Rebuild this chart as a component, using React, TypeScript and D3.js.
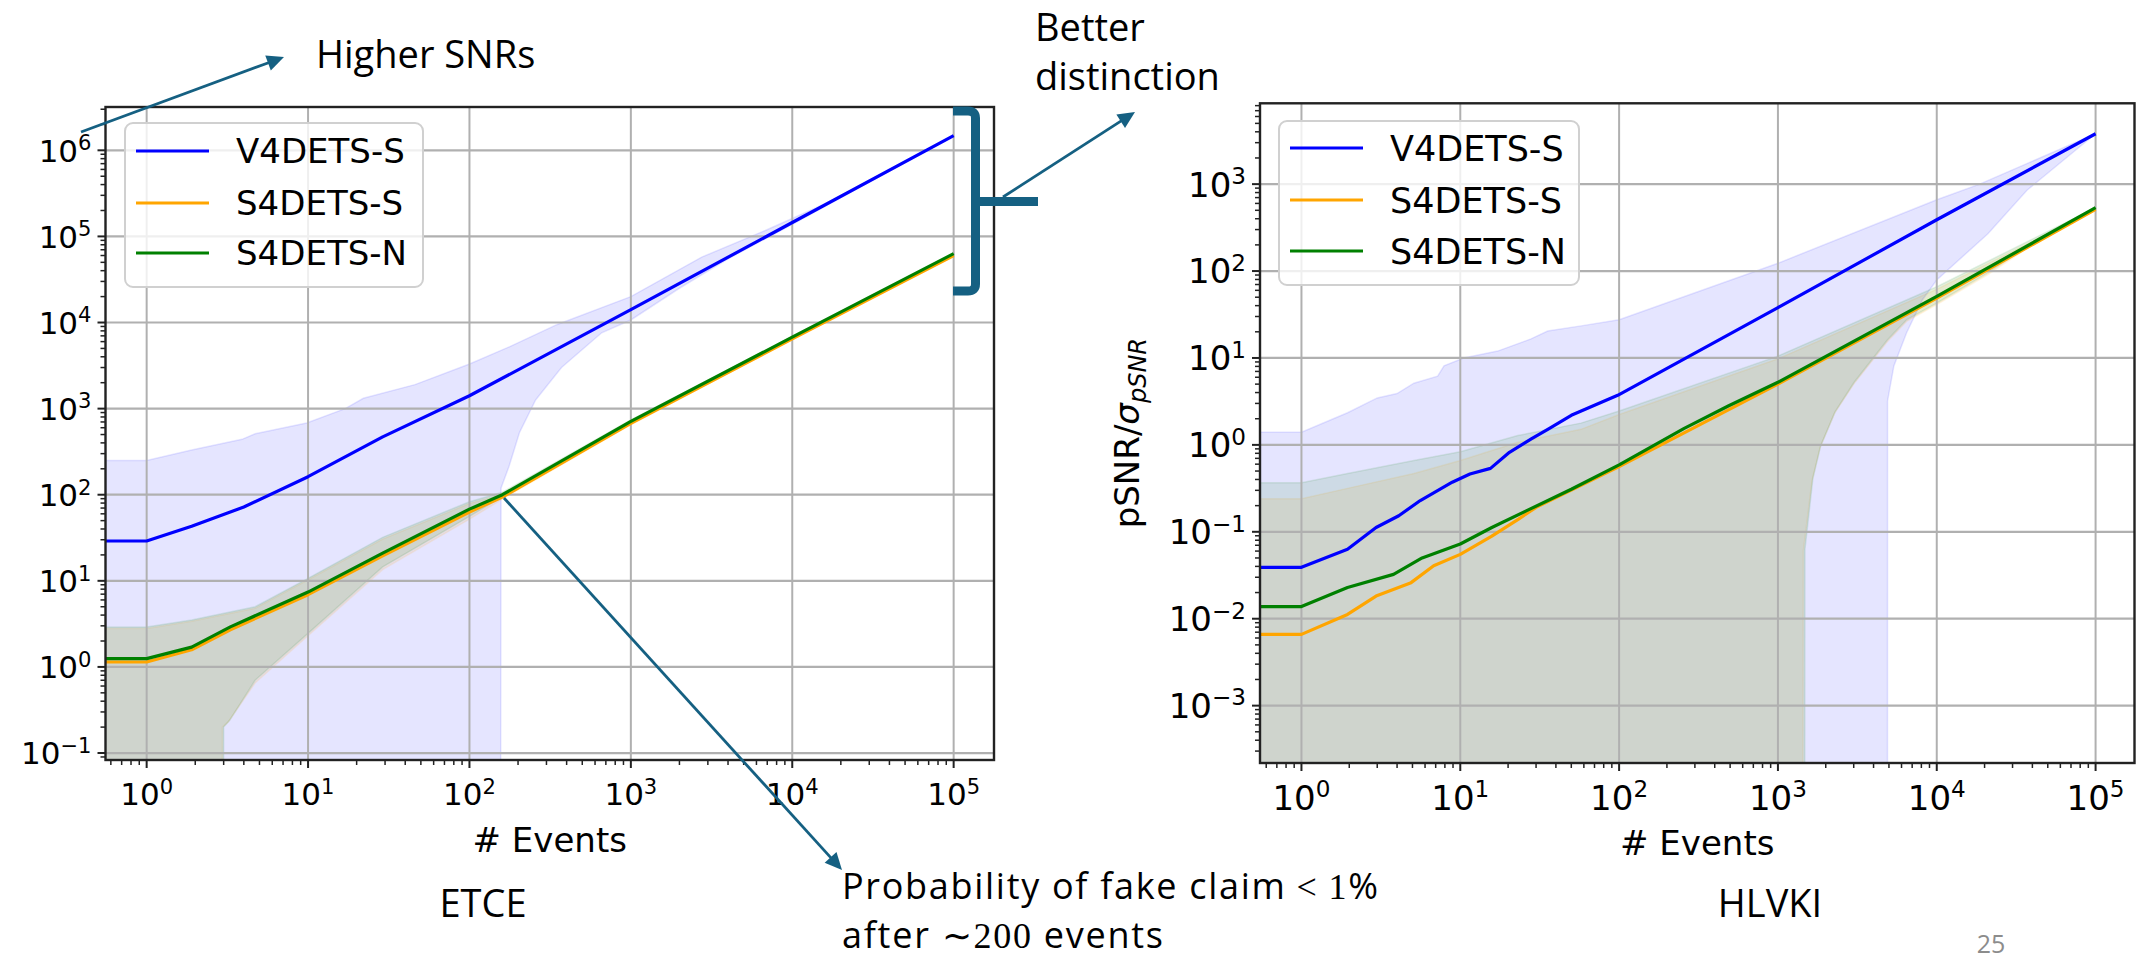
import React from "react";
import * as d3 from "d3";

type Pt = [number, number]; // [events, pSNR/σ]

// ---------- ETCE panel: mean curve and ±σ band edges per scheme ----------
const ETCE_V4S_MEAN: Pt[] = [[0.5, 29], [1, 29], [1.9, 43], [4, 72], [10, 162], [29, 470], [100, 1410], [1000, 14100], [10000, 145000], [100000, 1480000]];
const ETCE_V4S_UPPER: Pt[] = [[0.5, 250], [1, 250], [1.9, 330], [3.9, 440], [4.7, 510], [9.8, 680], [17, 1000], [22, 1320], [46, 1900], [100, 3300], [178, 5250], [350, 9500], [1000, 20000], [2750, 57500], [6800, 117000], [16000, 240000], [100000, 1480000]];
const ETCE_V4S_LOWER: Pt[] = [[0.5, 0], [155, 0], [157, 120], [176, 214], [204, 525], [257, 1260], [372, 3000], [660, 7600], [1000, 10700], [2000, 25000], [4000, 55000], [10000, 138000], [100000, 1480000]];

const ETCE_S4S_MEAN: Pt[] = [[0.5, 1.14], [1, 1.14], [1.9, 1.58], [3.3, 2.7], [10, 6.9], [29, 19.5], [100, 63], [160, 94], [1000, 676], [10000, 6460], [100000, 60000]];
const ETCE_S4S_UPPER: Pt[] = [[0.5, 2.8], [1, 2.8], [1.9, 3.4], [4.7, 4.8], [10, 10.3], [29, 30.5], [100, 79], [160, 101], [1000, 700], [10000, 6550], [100000, 60500]];
const ETCE_S4S_LOWER: Pt[] = [[0.5, 0], [2.9, 0], [2.95, 0.2], [3.2, 0.23], [4.7, 0.65], [10, 2.3], [29, 13.5], [100, 52], [160, 89], [1000, 650], [10000, 6370], [100000, 59500]];

const ETCE_S4N_MEAN: Pt[] = [[0.5, 1.25], [1, 1.25], [1.9, 1.7], [3.3, 2.92], [10, 7.4], [29, 21], [100, 68], [160, 100], [1000, 710], [10000, 6760], [100000, 63000]];
const ETCE_S4N_UPPER: Pt[] = [[0.5, 2.9], [1, 2.9], [1.9, 3.5], [4.7, 5.0], [10, 10.7], [29, 32], [100, 83], [160, 107], [1000, 740], [10000, 6900], [100000, 63500]];
const ETCE_S4N_LOWER: Pt[] = [[0.5, 0], [2.98, 0], [3.0, 0.2], [3.27, 0.24], [4.7, 0.7], [10, 2.45], [29, 14.5], [100, 56], [160, 95], [1000, 680], [10000, 6650], [100000, 62500]];

// ---------- HLVKI panel ----------
const HLVKI_V4S_MEAN: Pt[] = [[0.5, 0.039], [1, 0.039], [1.95, 0.063], [2.95, 0.112], [4.1, 0.153], [5.6, 0.229], [8.9, 0.372], [11.5, 0.462], [15.5, 0.537], [20.4, 0.822], [28, 1.17], [36, 1.53], [50, 2.19], [98, 3.72], [214, 8.1], [1000, 38], [10000, 389], [100000, 3800]];
const HLVKI_V4S_UPPER: Pt[] = [[0.5, 1.4], [1, 1.4], [1.95, 2.34], [3.0, 3.47], [4.0, 3.89], [5.1, 5.13], [7.2, 6.17], [7.9, 8.13], [10.5, 10], [17.2, 12], [27.9, 16.6], [35.5, 20.4], [57.5, 23.4], [100, 27.5], [1000, 123], [10000, 661], [18600, 1000], [100000, 3800]];
const HLVKI_V4S_LOWER: Pt[] = [[0.5, 0], [4890, 0], [4900, 3.2], [5370, 8.1], [6460, 19.5], [8130, 46.8], [10000, 79], [21000, 269], [37000, 851], [100000, 3800]];

const HLVKI_S4S_MEAN: Pt[] = [[0.5, 0.0066], [1, 0.0066], [1.95, 0.0112], [2.95, 0.0182], [4.9, 0.026], [6.8, 0.0407], [10, 0.055], [15.8, 0.089], [23.4, 0.141], [30, 0.191], [50, 0.302], [100, 0.562], [1000, 5.0], [10000, 49], [100000, 513]];
const HLVKI_S4S_UPPER: Pt[] = [[0.5, 0.24], [1, 0.24], [1.95, 0.316], [5.1, 0.468], [10, 0.661], [23, 1.07], [57.5, 1.51], [100, 2.24], [1000, 9.8], [10000, 61.7], [100000, 513]];
const HLVKI_S4S_LOWER: Pt[] = [[0.5, 0], [1430, 0], [1445, 0.06], [1640, 0.39], [1840, 0.93], [2270, 2.3], [3000, 5.0], [4900, 15.5], [6460, 26.3], [10000, 41], [21000, 91], [37000, 182], [100000, 513]];

const HLVKI_S4N_MEAN: Pt[] = [[0.5, 0.0138], [1, 0.0138], [1.95, 0.0229], [3.8, 0.0324], [5.75, 0.05], [10, 0.0724], [15.8, 0.112], [26, 0.174], [50, 0.309], [100, 0.589], [257, 1.55], [490, 2.82], [1000, 5.25], [10000, 51], [100000, 537]];
const HLVKI_S4N_UPPER: Pt[] = [[0.5, 0.366], [1, 0.366], [1.95, 0.468], [5.1, 0.661], [10, 0.832], [23, 1.28], [57.5, 1.78], [100, 2.45], [1000, 10.5], [10000, 66], [100000, 537]];
const HLVKI_S4N_LOWER: Pt[] = [[0.5, 0], [1470, 0], [1480, 0.063], [1660, 0.41], [1860, 0.98], [2290, 2.4], [3020, 5.25], [4900, 16.2], [6460, 27.5], [10000, 42.7], [21000, 95.5], [37000, 190], [100000, 537]];

// ---------- labels and ticks ----------
const SERIES_NAMES = ["V4DETS-S", "S4DETS-S", "S4DETS-N"];
const SERIES_COLORS = ["#0000ff", "#ffa500", "#008000"];
const X_TICK_EXPONENTS = [0, 1, 2, 3, 4, 5];
const ETCE_Y_TICK_EXPONENTS = [-1, 0, 1, 2, 3, 4, 5, 6];
const HLVKI_Y_TICK_EXPONENTS = [-3, -2, -1, 0, 1, 2, 3];
const X_LABEL = "# Events";

const TEAL = "#156082";
const AXIS_FONT = "DejaVu Sans";
const SLIDE_FONT = "Open Sans";

interface SeriesSpec { name: string; color: string; mean: Pt[]; upper: Pt[]; lower: Pt[] }
interface PanelSpec {
  id: string;
  box: { left: number; right: number; top: number; bottom: number };
  xLog: [number, number];
  yLog: [number, number];
  yExps: number[];
  tickSize: number;
  xTickDrop: number;
  legend: { x: number; y: number; w: number; h: number; rows: number[]; fontSize: number };
  yLabel: boolean;
  series: SeriesSpec[];
}

function makeSeries(m: Pt[][]): SeriesSpec[] {
  return SERIES_NAMES.map((name, i) => ({ name, color: SERIES_COLORS[i], mean: m[i][0], upper: m[i][1], lower: m[i][2] }));
}

const PANELS: PanelSpec[] = [
  {
    id: "etce",
    box: { left: 105.5, right: 994, top: 107, bottom: 760 },
    xLog: [-0.255, 5.25],
    yLog: [-1.081, 6.503],
    yExps: ETCE_Y_TICK_EXPONENTS,
    tickSize: 31,
    xTickDrop: 45,
    legend: { x: 125, y: 123, w: 298, h: 164, rows: [28, 80, 130], fontSize: 34 },
    yLabel: false,
    series: makeSeries([
      [ETCE_V4S_MEAN, ETCE_V4S_UPPER, ETCE_V4S_LOWER],
      [ETCE_S4S_MEAN, ETCE_S4S_UPPER, ETCE_S4S_LOWER],
      [ETCE_S4N_MEAN, ETCE_S4N_UPPER, ETCE_S4N_LOWER],
    ]),
  },
  {
    id: "hlvki",
    box: { left: 1260, right: 2134.5, top: 103.3, bottom: 763 },
    xLog: [-0.261, 5.245],
    yLog: [-3.66, 3.93],
    yExps: HLVKI_Y_TICK_EXPONENTS,
    tickSize: 34,
    xTickDrop: 47,
    legend: { x: 1279, y: 121, w: 300, h: 164, rows: [27, 79, 130], fontSize: 35 },
    yLabel: true,
    series: makeSeries([
      [HLVKI_V4S_MEAN, HLVKI_V4S_UPPER, HLVKI_V4S_LOWER],
      [HLVKI_S4S_MEAN, HLVKI_S4S_UPPER, HLVKI_S4S_LOWER],
      [HLVKI_S4N_MEAN, HLVKI_S4N_UPPER, HLVKI_S4N_LOWER],
    ]),
  },
];

function minorValues([lo, hi]: [number, number]): number[] {
  const out: number[] = [];
  for (let k = Math.floor(lo); k <= Math.ceil(hi); k++) {
    for (let m = 2; m <= 9; m++) {
      const v = m * 10 ** k;
      const l = Math.log10(v);
      if (l >= lo && l <= hi) out.push(v);
    }
  }
  return out;
}

function Pow10({ x, y, exp, size, anchor }: { x: number; y: number; exp: number; size: number; anchor: "middle" | "end" }) {
  const e = exp < 0 ? `\u2212${-exp}` : `${exp}`;
  return (
    <text x={x} y={y} textAnchor={anchor} fontFamily={AXIS_FONT} fontSize={size} fill="#000">
      10<tspan dy={-size * 0.37} fontSize={size * 0.68}>{e}</tspan>
    </text>
  );
}

function Panel({ spec }: { spec: PanelSpec }) {
  const { left: L, right: R, top: T, bottom: B } = spec.box;
  const x = d3.scaleLog().domain([10 ** spec.xLog[0], 10 ** spec.xLog[1]]).range([L, R]);
  const y = d3.scaleLog().domain([10 ** spec.yLog[0], 10 ** spec.yLog[1]]).range([B, T]);
  const yOf = (v: number) => (v > 0 ? y(v) : B + 400);
  const line = d3.line<Pt>().x((d) => x(d[0])).y((d) => yOf(d[1]));
  const band = (s: SeriesSpec) => line([...s.upper, ...s.lower.slice().reverse()]) + "Z";
  const clipId = `clip-${spec.id}`;
  const minorX = minorValues(spec.xLog);
  const minorY = minorValues(spec.yLog);
  const lg = spec.legend;
  const midX = (L + R) / 2;

  return (
    <g>
      <defs>
        <clipPath id={clipId}>
          <rect x={L} y={T} width={R - L} height={B - T} />
        </clipPath>
      </defs>

      <g clipPath={`url(#${clipId})`}>
        {spec.series.map((s) => (
          <path key={`band-${s.name}`} d={band(s)} fill={s.color} fillOpacity={0.1} stroke={s.color} strokeOpacity={0.1} strokeWidth={1.5} />
        ))}
        {X_TICK_EXPONENTS.map((k) => (
          <line key={`gx${k}`} x1={x(10 ** k)} x2={x(10 ** k)} y1={T} y2={B} stroke="#b0b0b0" strokeWidth={2} />
        ))}
        {spec.yExps.map((k) => (
          <line key={`gy${k}`} x1={L} x2={R} y1={y(10 ** k)} y2={y(10 ** k)} stroke="#b0b0b0" strokeWidth={2.2} />
        ))}
        {spec.series.map((s) => (
          <path key={`line-${s.name}`} d={line(s.mean) || ""} fill="none" stroke={s.color} strokeWidth={3.2} strokeLinejoin="round" />
        ))}
      </g>

      {/* ticks */}
      {X_TICK_EXPONENTS.map((k) => (
        <line key={`tx${k}`} x1={x(10 ** k)} x2={x(10 ** k)} y1={B} y2={B + 8} stroke="#222" strokeWidth={2} />
      ))}
      {minorX.map((v) => (
        <line key={`mx${v}`} x1={x(v)} x2={x(v)} y1={B} y2={B + 5} stroke="#222" strokeWidth={1.5} />
      ))}
      {spec.yExps.map((k) => (
        <line key={`ty${k}`} x1={L - 8} x2={L} y1={y(10 ** k)} y2={y(10 ** k)} stroke="#222" strokeWidth={2} />
      ))}
      {minorY.map((v) => (
        <line key={`my${v}`} x1={L - 5} x2={L} y1={y(v)} y2={y(v)} stroke="#222" strokeWidth={1.5} />
      ))}

      <rect x={L} y={T} width={R - L} height={B - T} fill="none" stroke="#222" strokeWidth={2.4} />

      {/* tick labels */}
      {X_TICK_EXPONENTS.map((k) => (
        <Pow10 key={`lx${k}`} x={x(10 ** k)} y={B + spec.xTickDrop} exp={k} size={spec.tickSize} anchor="middle" />
      ))}
      {spec.yExps.map((k) => (
        <Pow10 key={`ly${k}`} x={L - 14} y={y(10 ** k) + spec.tickSize * 0.365} exp={k} size={spec.tickSize} anchor="end" />
      ))}

      <text x={midX} y={B + 92} textAnchor="middle" fontFamily={AXIS_FONT} fontSize={34} fill="#000">{X_LABEL}</text>

      {spec.yLabel && (
        <text transform={`translate(1139, ${(T + B) / 2}) rotate(-90)`} textAnchor="middle" fontFamily={AXIS_FONT} fontSize={34} fill="#000">
          pSNR/<tspan fontStyle="italic">σ</tspan><tspan fontStyle="italic" fontSize={24} dy={7}>pSNR</tspan>
        </text>
      )}

      {/* legend */}
      <rect x={lg.x} y={lg.y} width={lg.w} height={lg.h} rx={8} fill="#fff" fillOpacity={0.8} stroke="#d0d0d0" strokeWidth={2} />
      {spec.series.map((s, i) => (
        <g key={`lg-${s.name}`}>
          <line x1={lg.x + 11} x2={lg.x + 84} y1={lg.y + lg.rows[i]} y2={lg.y + lg.rows[i]} stroke={s.color} strokeWidth={3.2} />
          <text x={lg.x + 111} y={lg.y + lg.rows[i] + lg.fontSize * 0.36} fontFamily={AXIS_FONT} fontSize={lg.fontSize} fill="#000">{s.name}</text>
        </g>
      ))}
    </g>
  );
}

function Arrow({ x1, y1, x2, y2 }: { x1: number; y1: number; x2: number; y2: number }) {
  const dx = x2 - x1, dy = y2 - y1;
  const len = Math.hypot(dx, dy);
  const ux = dx / len, uy = dy / len;
  const hl = 17, hw = 8;
  const bx = x2 - ux * hl, by = y2 - uy * hl;
  const pts = [[x2, y2], [bx - uy * hw, by + ux * hw], [bx + uy * hw, by - ux * hw]];
  return (
    <g>
      <line x1={x1} y1={y1} x2={bx + ux * 2} y2={by + uy * 2} stroke={TEAL} strokeWidth={2.8} />
      <polygon points={pts.map((p) => p.join(",")).join(" ")} fill={TEAL} />
    </g>
  );
}

export default function App() {
  return (
    <svg width={2136} height={959} viewBox="0 0 2136 959" style={{ position: "absolute", left: 0, top: 0, display: "block", background: "#fff" }}>
      <rect x={0} y={0} width={2136} height={959} fill="#fff" />
      {PANELS.map((p) => (
        <Panel key={p.id} spec={p} />
      ))}

      {/* annotations */}
      <text x={316} y={68} fontFamily={SLIDE_FONT} fontSize={38} fill="#000">Higher SNRs</text>
      <Arrow x1={81} y1={132} x2={284} y2={57} />

      <path d="M953,111 H968 Q975.5,111 975.5,118 V284 Q975.5,291 968,291 H953" fill="none" stroke={TEAL} strokeWidth={9} />
      <line x1={975} x2={1038} y1={201.5} y2={201.5} stroke={TEAL} strokeWidth={9} />
      <Arrow x1={1003} y1={197} x2={1135} y2={112} />
      <text x={1035} y={41} fontFamily={SLIDE_FONT} fontSize={38} fill="#000">Better</text>
      <text x={1035} y={90} fontFamily={SLIDE_FONT} fontSize={38} fill="#000">distinction</text>

      <Arrow x1={504} y1={498} x2={842} y2={870} />
      <text x={842} y={899} fontFamily={SLIDE_FONT} fontSize={36} fill="#000" textLength={536} lengthAdjust="spacing">
        Probability of fake claim<tspan dx={10} fontFamily="Liberation Serif">&lt;</tspan><tspan dx={10} fontFamily="Liberation Serif">1</tspan>%
      </text>
      <text x={842} y={948} fontFamily={SLIDE_FONT} fontSize={36} fill="#000" textLength={321} lengthAdjust="spacing">
        after <tspan fontFamily="Liberation Serif">∼200</tspan> events
      </text>

      <text x={483} y={917} textAnchor="middle" fontFamily={SLIDE_FONT} fontSize={38} fill="#000">ETCE</text>
      <text x={1770} y={917} textAnchor="middle" fontFamily={SLIDE_FONT} fontSize={38} fill="#000">HLVKI</text>
      <text x={1991} y={953} textAnchor="middle" fontFamily={SLIDE_FONT} fontSize={25} fill="#8c8c8c">25</text>
    </svg>
  );
}
